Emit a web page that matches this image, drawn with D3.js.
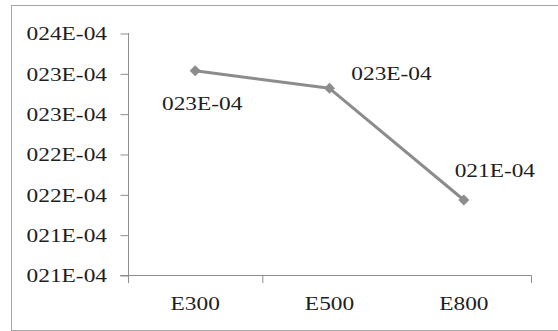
<!DOCTYPE html>
<html>
<head>
<meta charset="utf-8">
<script src="https://cdn.jsdelivr.net/npm/d3@7"></script>
<style>
  html, body { margin: 0; padding: 0; background: #fff; }
  svg { display: block; }
  text { font-family: "Liberation Serif", "Times New Roman", serif; fill: #1e1e1e; }
</style>
</head>
<body>
<svg id="chart" width="558" height="331"></svg>
<script>
// Series: one value per grade
const categories = ["E300", "E500", "E800"];
const values = [0.0023031, 0.0022814, 0.0021430];

// Value axis ticks and their printed labels
const tickValues = [0.00205, 0.0021, 0.00215, 0.0022, 0.00225, 0.0023, 0.00235];
const tickLabels = ["021E-04", "021E-04", "022E-04", "022E-04", "023E-04", "023E-04", "024E-04"];

// Where each data label sits relative to its point
const labelOffsets = [[7, 39], [62, -8], [31, -23]];

const FS = 19, SX = 1.23;           // font size and horizontal stretch of text
const lineColor = "#8c8c8c", axisColor = "#8e8e8e";

const fmt = v => String(Math.round(v * 1e4)).padStart(3, "0") + "E-04";

const svg = d3.select("#chart");

// chart area frame
svg.append("rect")
  .attr("x", 11.5).attr("y", 5.5)
  .attr("width", 560).attr("height", 325)
  .attr("fill", "none").attr("stroke", "#a6a6a6").attr("stroke-width", 1);

const x = d3.scaleBand().domain(categories).range([128, 531]).padding(0);
const y = d3.scaleLinear().domain([tickValues[0], tickValues[tickValues.length - 1]]).range([275, 33]);

function stretched(sel, tx, ty) {
  return sel.attr("transform", `translate(${tx},${ty}) scale(${SX},1)`);
}

// Y axis
const yAxis = svg.append("g")
  .attr("transform", "translate(128.5,0)")
  .call(d3.axisLeft(y).tickValues(tickValues).tickSize(8).tickPadding(0)
    .tickFormat((d, i) => tickLabels[i]));
yAxis.select(".domain").remove();
yAxis.selectAll(".tick line").attr("stroke", axisColor).attr("transform", "translate(0,0.5)");
yAxis.selectAll(".tick text").each(function () {
  const t = d3.select(this);
  t.attr("x", 0).attr("dy", null).attr("y", null)
   .attr("font-size", FS).attr("text-anchor", "end").attr("dy", "0.34em")
   .attr("transform", `translate(-21.5,0.5) scale(${SX},1)`);
});
// y axis line, running slightly below the category axis
svg.append("line")
  .attr("x1", 128.5).attr("x2", 128.5)
  .attr("y1", y.range()[1]).attr("y2", 283)
  .attr("stroke", axisColor).attr("stroke-width", 1);

// X axis
svg.append("line")
  .attr("x1", 120).attr("x2", x.range()[1] + 0.5)
  .attr("y1", 275.5).attr("y2", 275.5)
  .attr("stroke", axisColor).attr("stroke-width", 1);
[x("E500"), x.range()[1]].forEach(px => {
  svg.append("line")
    .attr("x1", px + 0.5).attr("x2", px + 0.5)
    .attr("y1", 275.5).attr("y2", 283)
    .attr("stroke", axisColor).attr("stroke-width", 1);
});
categories.forEach(c => {
  stretched(svg.append("text"), x(c) + x.bandwidth() / 2, 310)
    .attr("text-anchor", "middle").attr("font-size", FS).text(c);
});

// Line
const pts = categories.map((c, i) => [x(c) + x.bandwidth() / 2, y(values[i])]);
svg.append("path")
  .attr("d", d3.line()(pts))
  .attr("fill", "none").attr("stroke", lineColor)
  .attr("stroke-width", 3).attr("stroke-linejoin", "round");

// Diamond markers
svg.selectAll(".marker").data(pts).join("path")
  .attr("class", "marker")
  .attr("transform", d => `translate(${d[0]},${d[1]})`)
  .attr("d", "M0,-5.5L5.5,0L0,5.5L-5.5,0Z")
  .attr("fill", lineColor);

// Data labels
pts.forEach((p, i) => {
  stretched(svg.append("text"), p[0] + labelOffsets[i][0], p[1] + labelOffsets[i][1])
    .attr("text-anchor", "middle").attr("font-size", FS).text(fmt(values[i]));
});
</script>
</body>
</html>
